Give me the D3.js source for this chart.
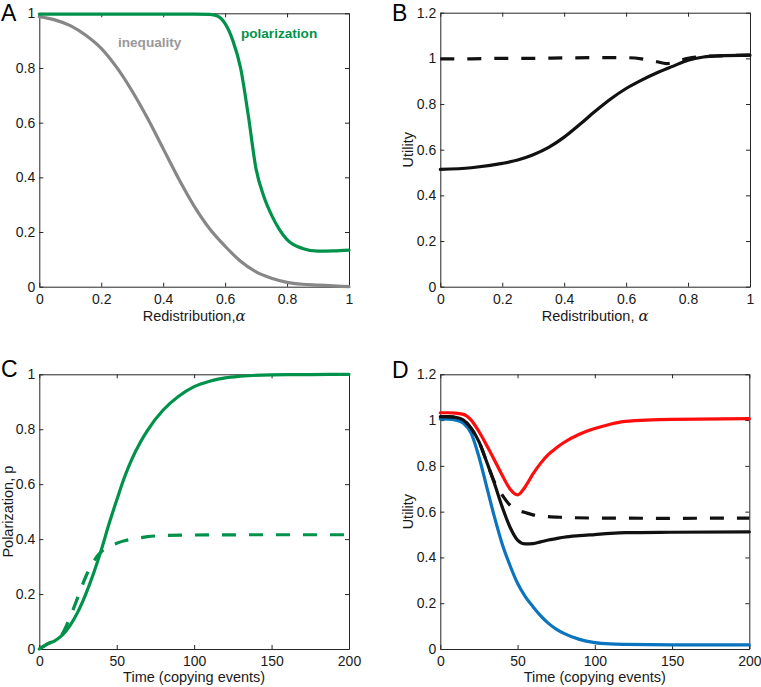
<!DOCTYPE html>
<html>
<head>
<meta charset="utf-8">
<script src="https://cdn.jsdelivr.net/npm/d3@7"></script>
<style>
  html, body { margin: 0; padding: 0; background: #fff; }
  svg { display: block; }
  text { font-family: "Liberation Sans", Arial, Helvetica, sans-serif; }
</style>
</head>
<body>
<svg id="chart" width="761" height="687"></svg>
<script>
// ---------------- DATA ----------------
// Panel A
const alphaIneq = [0, 0.05, 0.1, 0.15, 0.2, 0.25, 0.3, 0.35, 0.4, 0.45, 0.5, 0.55, 0.6, 0.65, 0.7, 0.75, 0.8, 0.85, 0.9, 0.95, 1];
const inequality = [0.988, 0.976, 0.955, 0.92, 0.872, 0.802, 0.715, 0.615, 0.505, 0.395, 0.295, 0.212, 0.148, 0.093, 0.054, 0.031, 0.016, 0.009, 0.006, 0.003, 0.0];
const alphaPol = [0, 0.1, 0.2, 0.3, 0.4, 0.5, 0.55, 0.575, 0.6, 0.625, 0.65, 0.675, 0.7, 0.725, 0.75, 0.775, 0.8, 0.85, 0.9, 0.95, 1];
const polarization = [0.997, 0.997, 0.997, 0.997, 0.997, 0.997, 0.996, 0.99, 0.962, 0.9, 0.8, 0.625, 0.43, 0.33, 0.262, 0.21, 0.172, 0.14, 0.13, 0.131, 0.134];

// Panel B
const alphaB = [0, 0.1, 0.2, 0.25, 0.3, 0.35, 0.4, 0.45, 0.5, 0.55, 0.6, 0.65, 0.7, 0.75, 0.8, 0.85, 0.9, 1];
const utilitySolidB = [0.514, 0.521, 0.54, 0.555, 0.578, 0.61, 0.655, 0.71, 0.768, 0.822, 0.868, 0.905, 0.937, 0.965, 0.992, 1.006, 1.011, 1.014];
const alphaBDash = [0, 0.1, 0.2, 0.3, 0.4, 0.5, 0.6, 0.65, 0.7, 0.73, 0.76, 0.8, 0.85, 0.9, 1];
const utilityDashedB = [0.998, 0.998, 1.0, 1.0, 1.002, 1.003, 1.003, 0.998, 0.985, 0.977, 0.985, 1.0, 1.008, 1.011, 1.014];

// Panel C
const timeC = [0, 5, 10, 15, 20, 25, 30, 35, 40, 45, 50, 55, 60, 65, 70, 80, 90, 100, 110, 120, 130, 150, 175, 200];
const polSolidC = [0, 0.018, 0.03, 0.051, 0.087, 0.136, 0.2, 0.275, 0.36, 0.455, 0.542, 0.625, 0.694, 0.75, 0.797, 0.87, 0.92, 0.955, 0.975, 0.987, 0.993, 0.998, 0.999, 1.0];
const timeCDash = [0, 5, 10, 15, 20, 25, 30, 35, 40, 45, 50, 55, 60, 70, 80, 100, 150, 200];
const polDashedC = [0, 0.018, 0.03, 0.057, 0.118, 0.19, 0.263, 0.318, 0.354, 0.373, 0.385, 0.394, 0.4, 0.409, 0.413, 0.415, 0.416, 0.416];

// Panel D
const timeD = [0, 5, 10, 15, 20, 25, 30, 35, 40, 45, 50, 55, 60, 65, 70, 75, 80, 90, 100, 110, 120, 150, 200];
const utilRed = [1.032, 1.032, 1.03, 1.025, 1.0, 0.95, 0.89, 0.826, 0.76, 0.70, 0.673, 0.709, 0.765, 0.812, 0.85, 0.878, 0.902, 0.938, 0.963, 0.982, 0.994, 1.003, 1.006];
const utilBlack = [1.015, 1.015, 1.012, 1.0, 0.964, 0.906, 0.818, 0.724, 0.622, 0.534, 0.476, 0.459, 0.46, 0.468, 0.476, 0.482, 0.488, 0.495, 0.5, 0.505, 0.508, 0.51, 0.512];
const utilBlue = [1.005, 1.004, 1.0, 0.986, 0.942, 0.84, 0.709, 0.578, 0.46, 0.367, 0.287, 0.229, 0.185, 0.145, 0.112, 0.087, 0.068, 0.042, 0.028, 0.022, 0.02, 0.018, 0.018];
const timeDDash = [0, 5, 10, 15, 20, 25, 30, 35, 40, 45, 50, 55, 60, 70, 80, 100, 150, 200];
const utilBlackDashed = [1.015, 1.015, 1.012, 1.0, 0.964, 0.906, 0.818, 0.73, 0.673, 0.629, 0.607, 0.596, 0.586, 0.578, 0.575, 0.572, 0.571, 0.572];

// Ticks
const alphaTicks = [0, 0.2, 0.4, 0.6, 0.8, 1];
const yTicks01 = [0, 0.2, 0.4, 0.6, 0.8, 1];
const yTicks012 = [0, 0.2, 0.4, 0.6, 0.8, 1, 1.2];
const timeTicks = [0, 50, 100, 150, 200];

// ---------------- STYLE ----------------
const GREEN = "#00924a";
const GRAY = "#878787";
const GRAY_TEXT = "#999999";
const RED = "#ff0d0d";
const BLUE = "#0a74bf";
const BLACK = "#111111";
const AXIS = "#262626";
const DASH = "14,13";
const LW = 3.2;

const svg = d3.select("#chart");
const fmt = d => String(+(+d).toFixed(1));

function panel(o) {
  const x = d3.scaleLinear().domain(o.xDomain).range([o.left, o.right]);
  const y = d3.scaleLinear().domain(o.yDomain).range([o.bottom, o.top]);
  const g = svg.append("g");
  const styleAxis = sel => {
    sel.select(".domain").attr("stroke", AXIS).attr("stroke-width", 1);
    sel.selectAll(".tick line").attr("stroke", AXIS).attr("stroke-width", 1);
    sel.selectAll(".tick text").attr("fill", "#1a1a1a")
      .attr("font-size", 14).attr("font-family", "'Liberation Sans', Arial, sans-serif");
  };
  g.append("g").attr("transform", `translate(0,${o.bottom})`)
    .call(d3.axisBottom(x).tickValues(o.xTicks).tickSizeInner(-4).tickSizeOuter(0).tickPadding(7).tickFormat(fmt))
    .call(styleAxis);
  g.append("g").attr("transform", `translate(0,${o.top})`)
    .call(d3.axisTop(x).tickValues(o.xTicks).tickSizeInner(-4).tickSizeOuter(0).tickFormat(""))
    .call(styleAxis);
  g.append("g").attr("transform", `translate(${o.left},0)`)
    .call(d3.axisLeft(y).tickValues(o.yTicks).tickSizeInner(-4).tickSizeOuter(0).tickPadding(4).tickFormat(fmt))
    .call(styleAxis);
  g.append("g").attr("transform", `translate(${o.right},0)`)
    .call(d3.axisRight(y).tickValues(o.yTicks).tickSizeInner(-4).tickSizeOuter(0).tickFormat(""))
    .call(styleAxis);
  return {g, x, y};
}

function drawLine(p, xs, ys, color, dashed) {
  const data = xs.map((v, i) => [v, ys[i]]);
  const line = d3.line().x(d => p.x(d[0])).y(d => p.y(d[1])).curve(d3.curveMonotoneX);
  p.g.append("path").datum(data)
    .attr("d", line)
    .attr("fill", "none")
    .attr("stroke", color)
    .attr("stroke-width", LW)
    .attr("stroke-linejoin", "round")
    .attr("stroke-linecap", dashed ? "butt" : "round")
    .attr("stroke-dasharray", dashed ? DASH : null);
}

function letter(txt, x, y) {
  svg.append("text").attr("x", x).attr("y", y).attr("font-size", 23).attr("fill", "#000").text(txt);
}

function xLabel(p, o, y, parts) {
  const t = svg.append("text").attr("x", (o.left + o.right) / 2).attr("y", y)
    .attr("text-anchor", "middle").attr("font-size", 14.5).attr("fill", "#1a1a1a");
  parts.forEach(pt => {
    const s = t.append("tspan").text(pt.text);
    if (pt.greek) s.attr("font-family", "'DejaVu Serif', 'Liberation Serif', serif").attr("font-style", "italic").attr("font-size", 15);
  });
}

function yLabel(o, x, txt) {
  svg.append("text")
    .attr("transform", `translate(${x},${(o.top + o.bottom) / 2}) rotate(-90)`)
    .attr("text-anchor", "middle").attr("font-size", 14.5).attr("fill", "#1a1a1a").text(txt);
}

// ---------------- PANEL A ----------------
const oA = {left: 39.3, right: 349, top: 13.3, bottom: 286.7, xDomain: [0, 1], yDomain: [0, 1], xTicks: alphaTicks, yTicks: yTicks01};
const pA = panel(oA);
drawLine(pA, alphaIneq, inequality, GRAY, false);
drawLine(pA, alphaPol, polarization, GREEN, false);
pA.g.append("text").attr("x", pA.x(0.254)).attr("y", pA.y(0.877))
  .attr("font-size", 13.6).attr("font-weight", "bold").attr("fill", GRAY_TEXT).text("inequality");
pA.g.append("text").attr("x", pA.x(0.651)).attr("y", pA.y(0.91))
  .attr("font-size", 13.6).attr("font-weight", "bold").attr("fill", GREEN).text("polarization");
xLabel(pA, oA, 321, [{text: "Redistribution,"}, {text: "α", greek: true}]);
letter("A", 1, 21);

// ---------------- PANEL B ----------------
const oB = {left: 440.3, right: 750, top: 12.7, bottom: 286.7, xDomain: [0, 1], yDomain: [0, 1.2], xTicks: alphaTicks, yTicks: yTicks012};
const pB = panel(oB);
drawLine(pB, alphaB, utilitySolidB, BLACK, false);
drawLine(pB, alphaBDash, utilityDashedB, BLACK, true);
xLabel(pB, oB, 321, [{text: "Redistribution,  "}, {text: "α", greek: true}]);
yLabel(oB, 413, "Utility");
letter("B", 392, 21);

// ---------------- PANEL C ----------------
const oC = {left: 39.3, right: 349, top: 374.3, bottom: 649, xDomain: [0, 200], yDomain: [0, 1], xTicks: timeTicks, yTicks: yTicks01};
const pC = panel(oC);
drawLine(pC, timeC, polSolidC, GREEN, false);
drawLine(pC, timeCDash, polDashedC, GREEN, true);
xLabel(pC, oC, 682, [{text: "Time (copying events)"}]);
yLabel(oC, 13, "Polarization, p");
letter("C", 1, 377);

// ---------------- PANEL D ----------------
const oD = {left: 440.3, right: 749.3, top: 374.3, bottom: 649, xDomain: [0, 200], yDomain: [0, 1.2], xTicks: timeTicks, yTicks: yTicks012};
const pD = panel(oD);
drawLine(pD, timeD, utilBlue, BLUE, false);
drawLine(pD, timeDDash, utilBlackDashed, BLACK, true);
drawLine(pD, timeD, utilBlack, BLACK, false);
drawLine(pD, timeD, utilRed, RED, false);
xLabel(pD, oD, 682, [{text: "Time (copying events)"}]);
yLabel(oD, 413, "Utility");
letter("D", 392, 378);
</script>
</body>
</html>
